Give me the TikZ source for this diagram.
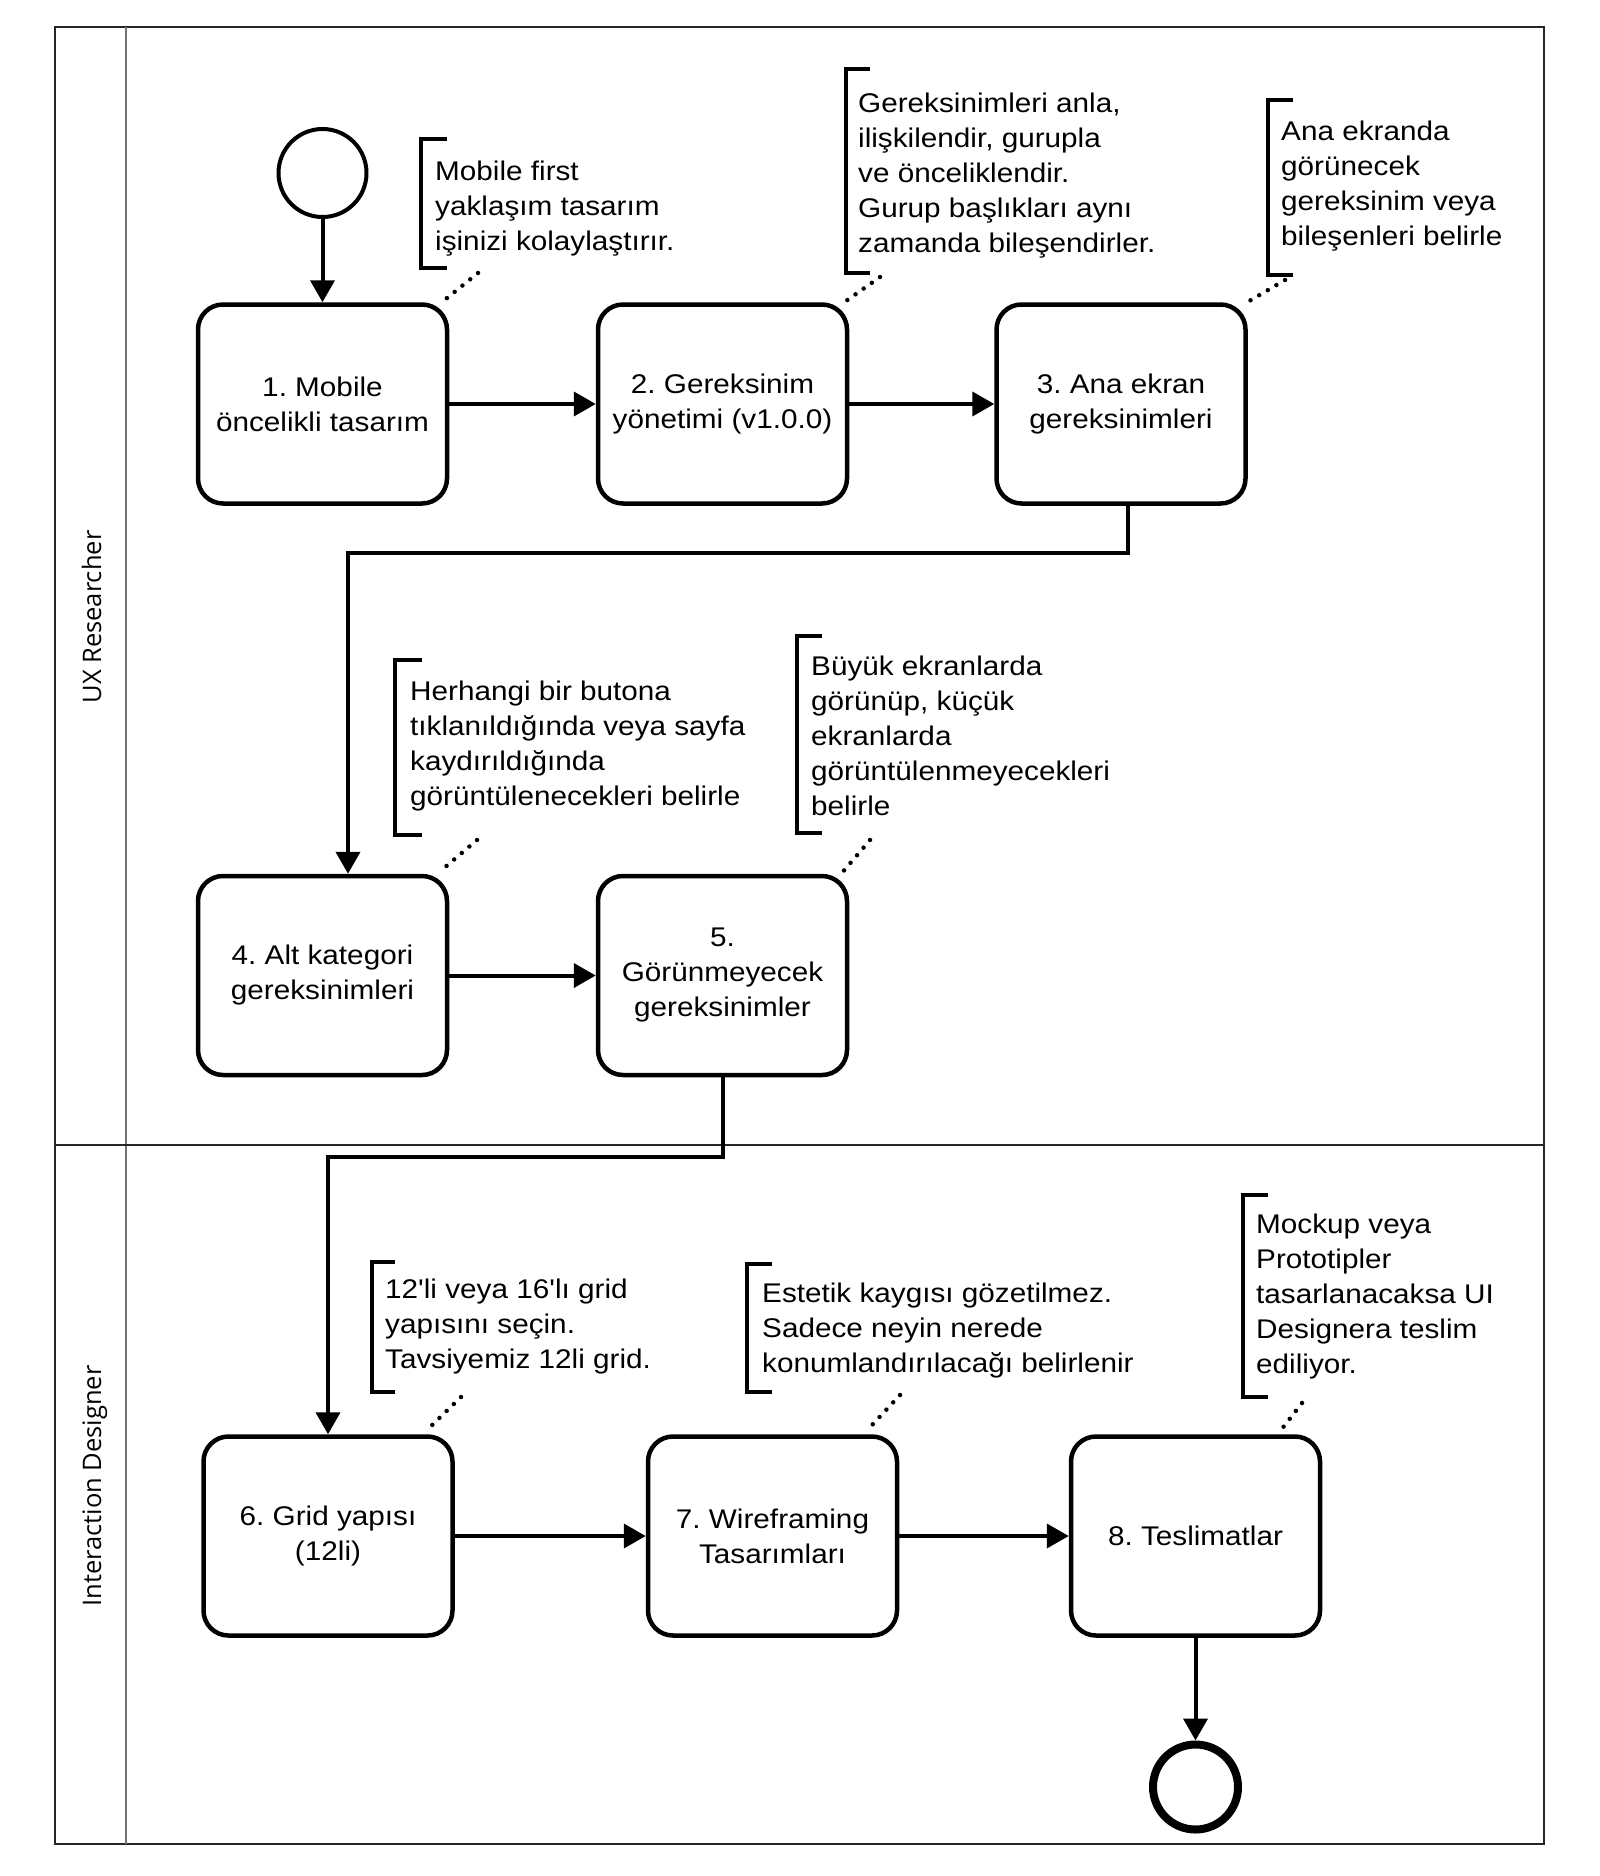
\documentclass[tikz,border=0pt]{standalone}
\usepackage{fontspec}
\newfontfamily\arialish{Liberation Sans}[FakeStretch=1.1]
\newfontfamily\lanefam{Open Sans}
\usetikzlibrary{arrows.meta,calc}
\newcommand\txtfont{\arialish\fontsize{27}{35}\selectfont\frenchspacing}
\newcommand\lanefont{\lanefam\fontsize{25.5}{30}\selectfont}
\begin{document}
\begin{tikzpicture}[x=1pt,y=-1pt,
  box/.style={draw, line width=4.5pt, rounded corners=25pt, minimum width=249pt, minimum height=199pt, align=center, inner sep=0pt, font=\txtfont},
  note/.style={anchor=north west, align=left, inner sep=0pt, font=\txtfont},
  brk/.style={line width=4.5pt},
  flow/.style={line width=4pt, -{Triangle[width=24pt,length=22pt]}},
  assoc/.style={line width=4.5pt, line cap=round, dash pattern=on 0pt off 10pt},
  lane/.style={font=\lanefont, rotate=90, anchor=base, inner sep=0pt},
  frame/.style={line width=1.6pt, draw=black!85},
  divider/.style={line width=2pt, draw=black!55}
]
\useasboundingbox (0,0) rectangle (1600,1876);
% pool and lanes
\draw[frame] (55,27) rectangle (1544,1844);
\draw[divider] (126,27) -- (126,1844);
\draw[frame] (55,1145) -- (1544,1145);
\node[lane] (l1) at (101,617) {UX Researcher};
\node[lane] (l2) at (101,1486) {Interaction Designer};

% events
\node[draw, circle, line width=4pt, minimum size=88pt, inner sep=0pt] (start) at (322.5,173) {};
\node[draw, circle, line width=8pt, minimum size=85pt, inner sep=0pt] (end) at (1195.5,1787) {};

% tasks
\node[box] (b1) at (322.5,404) {1. Mobile\\öncelikli tasarım};
\node[box] (b2) at (722.5,404) {2. Gereksinim\\yönetimi (v1.0.0)};
\node[box] (b3) at (1121,404) {3. Ana ekran\\gereksinimleri};
\node[box] (b4) at (322.5,975.5) {4. Alt kategori\\gereksinimleri};
\node[box] (b5) at (722.5,975.5) {5.\\Görünmeyecek\\gereksinimler};
\node[box] (b6) at (328,1536) {6. Grid yapısı\\(12li)};
\node[box] (b7) at (772.5,1536) {7. Wireframing\\Tasarımları};
\node[box] (b8) at (1195.5,1536) {8. Teslimatlar};

% sequence flows
\draw[flow] (start) -- (b1);
\draw[flow] (b1) -- (b2);
\draw[flow] (b2) -- (b3);
\coordinate (k1) at (348,553);
\draw[flow] ([xshift=6.5pt]b3.south) |- (k1) -- (k1 |- b4.north);
\draw[flow] (b4) -- (b5);
\coordinate (k2) at (328,1157);
\draw[flow] (b5.south) |- (k2) -- (k2 |- b6.north);
\draw[flow] (b6) -- (b7);
\draw[flow] (b7) -- (b8);
\draw[flow] (b8) -- (end);

% annotations
\node[note] (n1) at (435,155.5) {\strut Mobile first\\yaklaşım tasarım\\işinizi kolaylaştırır.};
\draw[brk] (447,139) -| (421,268) -- (447,268);
\node[note] (n2) at (858,87.5) {\strut Gereksinimleri anla,\\ilişkilendir, gurupla\\ve önceliklendir.\\Gurup başlıkları aynı\\zamanda bileşendirler.};
\draw[brk] (870,69) -| (846,273) -- (870,273);
\node[note] (n3) at (1281,115.5) {\strut Ana ekranda\\görünecek\\gereksinim veya\\bileşenleri belirle};
\draw[brk] (1293,100) -| (1268,275) -- (1293,275);
\node[note] (n4) at (410,675.5) {\strut Herhangi bir butona\\tıklanıldığında veya sayfa\\kaydırıldığında\\görüntülenecekleri belirle};
\draw[brk] (422,660) -| (395,835) -- (422,835);
\node[note] (n5) at (811,650.5) {\strut Büyük ekranlarda\\görünüp, küçük\\ekranlarda\\görüntülenmeyecekleri\\belirle};
\draw[brk] (822,636) -| (797,833) -- (822,833);
\node[note] (n6) at (385,1273.5) {\strut 12'li veya 16'lı grid\\yapısını seçin.\\Tavsiyemiz 12li grid.};
\draw[brk] (395,1262) -| (372,1392) -- (395,1392);
\node[note] (n7) at (762,1277.5) {\strut Estetik kaygısı gözetilmez.\\Sadece neyin nerede\\konumlandırılacağı belirlenir};
\draw[brk] (772,1264) -| (747,1392) -- (772,1392);
\node[note] (n8) at (1256,1208.5) {\strut Mockup veya\\Prototipler\\tasarlanacaksa UI\\Designera teslim\\ediliyor.};
\draw[brk] (1268,1195) -| (1243,1397) -- (1268,1397);

% associations
\coordinate (d1) at (478,273);
\coordinate (d2) at (880,277);
\coordinate (d3) at (1285,280);
\coordinate (d4) at (477,840);
\coordinate (d5) at (870,840);
\coordinate (d6) at (461,1397);
\coordinate (d7) at (900,1395);
\coordinate (d8) at (1302,1403);
\draw[assoc] (d1) -- ($(b1.north east)+(-5,-2)$);
\draw[assoc] (d2) -- ($(b2.north east)+(-5,0)$);
\draw[assoc] (d3) -- ($(b3.north east)+(-4,2)$);
\draw[assoc] (d4) -- ($(b4.north east)+(-6,-5)$);
\draw[assoc] (d5) -- ($(b5.north east)+(-8,0)$);
\draw[assoc] (d6) -- ($(b6.north east)+(-28,-4)$);
\draw[assoc] (d7) -- ($(b7.north east)+(-33,-3)$);
\draw[assoc] (d8) -- ($(b8.north east)+(-43,-2)$);
\end{tikzpicture}
\end{document}
